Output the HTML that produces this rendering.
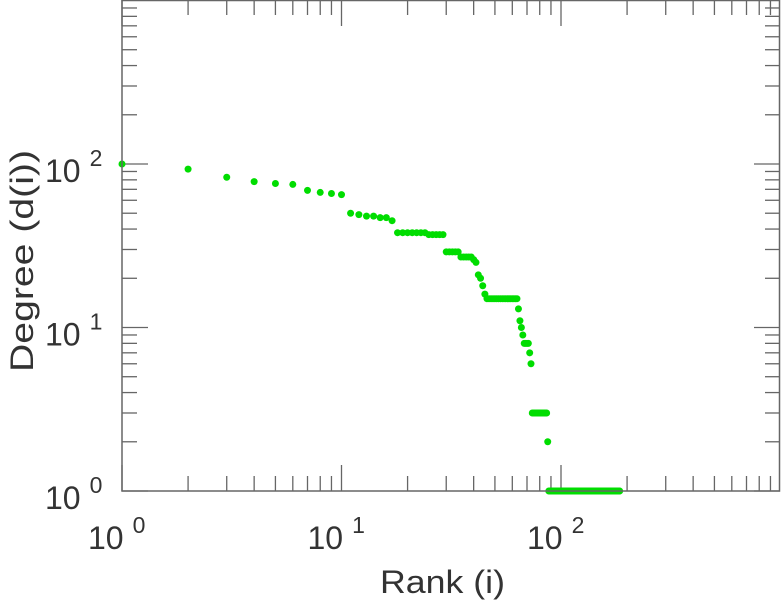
<!DOCTYPE html>
<html><head><meta charset="utf-8"><style>
html,body{margin:0;padding:0;background:#fff;}
svg{display:block;font-family:"Liberation Sans",sans-serif;}
</style></head><body>
<svg id="chart" width="781" height="600">
<g id="ticks"></g>
<g id="labels"></g>
<g id="points"></g>
<rect x="122" y="0.5" width="657.5" height="490.5" fill="none" stroke="#666" stroke-width="1.5"/>
<text x="380" y="593" font-size="32" textLength="125" lengthAdjust="spacingAndGlyphs" fill="#333">Rank (i)</text>
<text transform="translate(33,372) rotate(-90)" font-size="32" textLength="222" lengthAdjust="spacingAndGlyphs" fill="#333">Degree (d(i))</text>
</svg>
<script>
const xTickExps = [0, 1, 2];
const yTickExps = [0, 1, 2];
const degrees = [100,93,83,78,76,75,69,67,66,65,50,49,48,48,47,47,45,
38,38,38,38,38,38,38,37,37,37,37,37,29,29,29,29,29,27,27,27,27,27,26,25,21,20,18,16,
15,15,15,15,15,15,15,15,15,15,15,15,15,15,15,15,15,15,13,11,10,9,8,8,8,8,7,6,
3,3,3,3,3,3,3,3,3,3,3,3,3,2,
1,1,1,1,1,1,1,1,1,1,1,1,1,1,1,1,1,1,1,1,1,1,1,1,1,1,1,1,1,1,1,1,1,1,1,1,1,1,1,1,1,1,1,1,1,1,1,1,1,1,
1,1,1,1,1,1,1,1,1,1,1,1,1,1,1,1,1,1,1,1,1,1,1,1,1,1,1,1,1,1,1,1,1,1,1,1,1,1,1,1,1,1,1,1,1,1,1,1];

const X0=122, XD=219.5, Y0=491, YD=163.5;
function xs(v){return X0+Math.log10(v)*XD;}
function ys(v){return Y0-Math.log10(v)*YD;}
const NS="http://www.w3.org/2000/svg";
const tg=document.getElementById('ticks'), lg=document.getElementById('labels'), pg=document.getElementById('points');
function line(g,x1,y1,x2,y2){const l=document.createElementNS(NS,'line');
l.setAttribute('x1',x1);l.setAttribute('y1',y1);l.setAttribute('x2',x2);l.setAttribute('y2',y2);
l.setAttribute('stroke','#666');l.setAttribute('stroke-width','1.3');


g.appendChild(l);}
for(let e=0;e<3;e++){for(let m=1;m<=9;m++){
  const v=m*Math.pow(10,e), L=(m===1)?26:15;
  const x=xs(v); if(x<=780){line(tg,x,491,x,491-L);line(tg,x,0,x,L);}
  const y=ys(v); if(y>=0){line(tg,122,y,122+L,y);line(tg,780,y,780-L,y);}
}}
function label(x,y,exp,anchor,name){
  const t=document.createElementNS(NS,'text');
  t.setAttribute('x',x);t.setAttribute('y',y);t.setAttribute('font-size','32');t.setAttribute('fill','#333');
  t.setAttribute('text-anchor',anchor);
  
  
  t.innerHTML='10<tspan dy="-16" font-size="23" dx="9">'+exp+'</tspan>';
  lg.appendChild(t);}
xTickExps.forEach(e=>label(xs(Math.pow(10,e))-34,549,e,'start','x-tick-label'));
yTickExps.forEach(e=>label(45,ys(Math.pow(10,e))+18,e,'start','y-tick-label'));
degrees.forEach((d,i)=>{
  const c=document.createElementNS(NS,'circle');
  c.setAttribute('cx',xs(i+1));c.setAttribute('cy',ys(d));c.setAttribute('r','3.5');c.setAttribute('fill','#00dd00');
  
  
  pg.appendChild(c);
});
</script>
</body></html>
